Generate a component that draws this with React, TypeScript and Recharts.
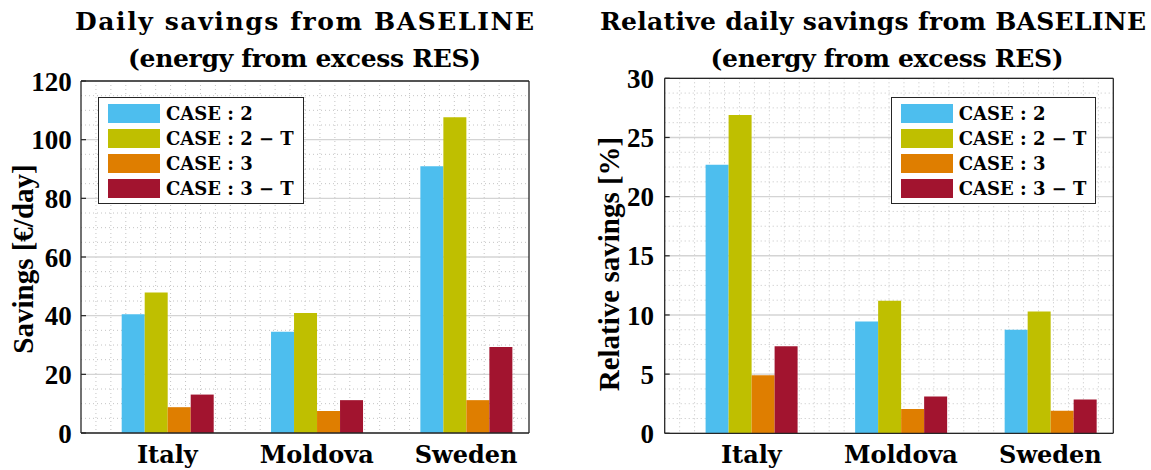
import React from 'react';
import { BarChart, Bar, XAxis, YAxis, CartesianGrid, Legend } from 'recharts';

// Categories and series
const countries = ['Italy', 'Moldova', 'Sweden'];
const seriesNames = ['CASE : 2', 'CASE : 2 \u2212 T', 'CASE : 3', 'CASE : 3 \u2212 T'];
const seriesColors = ['#4DBEEE', '#BFBF00', '#DF7E00', '#A2142F'];

// Daily savings [€/day]
const savingsCase2 = [40.5, 34.5, 90.9];
const savingsCase2T = [47.9, 40.9, 107.6];
const savingsCase3 = [8.8, 7.5, 11.2];
const savingsCase3T = [13.1, 11.2, 29.3];

// Relative daily savings [%]
const relativeCase2 = [22.7, 9.45, 8.75];
const relativeCase2T = [26.9, 11.2, 10.3];
const relativeCase3 = [4.9, 2.05, 1.9];
const relativeCase3T = [7.35, 3.1, 2.85];

// Axis ticks
const savingsTicks = [0, 20, 40, 60, 80, 100, 120];
const relativeTicks = [0, 5, 10, 15, 20, 25, 30];

const SERIF_CM = '"DejaVu Serif", serif';
const SERIF_TIMES = '"Liberation Serif", serif';
const AXIS = '#262626';

const buildRows = (s1: number[], s2: number[], s3: number[], s4: number[]) =>
  countries.map((country, i) => ({ country, c2: s1[i], c2t: s2[i], c3: s3[i], c3t: s4[i] }));

const savingsRows = buildRows(savingsCase2, savingsCase2T, savingsCase3, savingsCase3T);
const relativeRows = buildRows(relativeCase2, relativeCase2T, relativeCase3, relativeCase3T);
const seriesKeys = ['c2', 'c2t', 'c3', 'c3t'];

const LegendBox = (props: any) => {
  const payload = props.payload || [];
  return (
    <div
      style={{
        border: `1.3px solid ${AXIS}`,
        background: '#fff',
        padding: '3px 9px 2px 9px',
        fontFamily: SERIF_CM,
        fontWeight: 'bold',
        fontSize: 18,
        color: '#000',
        whiteSpace: 'nowrap',
      }}
    >
      {payload.map((e: any) => (
        <div key={e.value} style={{ display: 'flex', alignItems: 'center', height: 25 }}>
          <span style={{ display: 'inline-block', width: 52, height: 19, background: e.color, marginRight: 6 }} />
          <span>{e.value}</span>
        </div>
      ))}
    </div>
  );
};

type PanelProps = {
  rows: any[];
  ticks: number[];
  minorStep: number;
  width: number;
  height: number;
  margin: { top: number; right: number; bottom: number; left: number };
  shift: number;
  tickGap: number;
  legendPos: { left: number; top: number };
};

const Panel = ({ rows, ticks, minorStep, width, height, margin, shift, tickGap, legendPos }: PanelProps) => {
  const yMax = ticks[ticks.length - 1];
  const nCat = rows.length;
  // dotted minor grid: every 0.1 category unit horizontally, every minorStep vertically
  const minorVertical = ({ offset }: any) => {
    const out: number[] = [];
    for (let k = 1; k < nCat * 10; k++) out.push(offset.left + (offset.width * k) / (nCat * 10));
    return out;
  };
  const minorHorizontal = ({ offset }: any) => {
    const out: number[] = [];
    for (let v = minorStep; v < yMax - 1e-9; v += minorStep) {
      if (ticks.some((t) => Math.abs(t - v) < 1e-9)) continue;
      out.push(offset.top + offset.height * (1 - v / yMax));
    }
    return out;
  };
  return (
    <BarChart width={width} height={height} data={rows} margin={margin} barGap={0}>
      <CartesianGrid
        stroke="#c4c4c4"
        strokeDasharray="1 3"
        strokeWidth={1}
        verticalCoordinatesGenerator={minorVertical}
        horizontalCoordinatesGenerator={minorHorizontal}
      />
      <CartesianGrid vertical={false} stroke="#d4d4d4" strokeWidth={1.4} />
      <XAxis
        dataKey="country"
        height={30}
        padding={{ left: shift, right: -shift }}
        tickLine={false}
        tickSize={6}
        tickMargin={7}
        axisLine={{ stroke: AXIS, strokeWidth: 1.3 }}
        tick={{ fontFamily: SERIF_CM, fontWeight: 'bold', fontSize: 24, fill: '#000' }}
      />
      <XAxis
        xAxisId="top"
        dataKey="country"
        orientation="top"
        height={1}
        mirror
        tick={false}
        tickSize={5}
        tickLine={{ stroke: AXIS, strokeWidth: 1.2 }}
        axisLine={{ stroke: AXIS, strokeWidth: 1.3 }}
      />
      <YAxis
        width={70}
        domain={[0, yMax]}
        ticks={ticks}
        tickSize={-5}
        tickMargin={5 + tickGap}
        tickLine={{ stroke: AXIS, strokeWidth: 1.2 }}
        axisLine={{ stroke: AXIS, strokeWidth: 1.3 }}
        tick={{ fontFamily: SERIF_TIMES, fontWeight: 'bold', fontSize: 27, fill: '#000' }}
        allowDataOverflow
      />
      <YAxis
        yAxisId="right"
        orientation="right"
        width={1}
        mirror
        domain={[0, yMax]}
        ticks={ticks}
        tick={false}
        tickSize={5}
        tickLine={{ stroke: AXIS, strokeWidth: 1.2 }}
        axisLine={{ stroke: AXIS, strokeWidth: 1.3 }}
      />
      {seriesKeys.map((key, i) => (
        <Bar
          key={key}
          dataKey={key}
          name={seriesNames[i]}
          fill={seriesColors[i]}
          barSize={23}
          isAnimationActive={false}
        />
      ))}
      <Legend
        layout="vertical"
        align="center"
        verticalAlign="middle"
        content={<LegendBox />}
        wrapperStyle={{ left: legendPos.left, top: legendPos.top, width: 'auto', height: 'auto' }}
      />
    </BarChart>
  );
};

const titleStyle: React.CSSProperties = { fontFamily: SERIF_CM, fontWeight: 'bold', fontSize: 25 };
const yLabelStyle: React.CSSProperties = { fontFamily: SERIF_TIMES, fontWeight: 'bold', fontSize: 29 };

export default function App() {
  return (
    <div style={{ position: 'absolute', left: 0, top: 0, width: 1151, height: 470, background: '#fff', overflow: 'hidden' }}>
      <div style={{ position: 'absolute', left: 0, top: 0 }}>
        <Panel
          rows={savingsRows}
          ticks={savingsTicks}
          minorStep={5}
          width={575}
          height={470}
          margin={{ top: 81, right: 46, bottom: 7, left: 11 }}
          shift={11.7}
          tickGap={9.3}
          legendPos={{ left: 98, top: 97 }}
        />
      </div>
      <div style={{ position: 'absolute', left: 580, top: 0 }}>
        <Panel
          rows={relativeRows}
          ticks={relativeTicks}
          minorStep={1.25}
          width={571}
          height={470}
          margin={{ top: 78.3, right: 37.7, bottom: 6.7, left: 14.7 }}
          shift={11.9}
          tickGap={10.7}
          legendPos={{ left: 310.7, top: 96.7 }}
        />
      </div>
      <svg width={1151} height={470} style={{ position: 'absolute', left: 0, top: 0, pointerEvents: 'none' }}>
        <text x={304.5} y={29.5} textAnchor="middle" textLength={459} lengthAdjust="spacing" style={titleStyle}>
          Daily savings from BASELINE
        </text>
        <text x={304.5} y={66.5} textAnchor="middle" textLength={353} lengthAdjust="spacing" style={titleStyle}>
          (energy from excess RES)
        </text>
        <text x={873} y={29.5} textAnchor="middle" textLength={546} lengthAdjust="spacing" style={titleStyle}>
          Relative daily savings from BASELINE
        </text>
        <text x={887} y={66.5} textAnchor="middle" textLength={353} lengthAdjust="spacing" style={titleStyle}>
          (energy from excess RES)
        </text>
        <text transform="translate(23,259) rotate(-90)" textAnchor="middle" dominantBaseline="central" style={yLabelStyle}>
          Savings [€/day]
        </text>
        <text transform="translate(608.5,264) rotate(-90)" textAnchor="middle" dominantBaseline="central" style={yLabelStyle}>
          Relative savings [%]
        </text>
      </svg>
    </div>
  );
}
